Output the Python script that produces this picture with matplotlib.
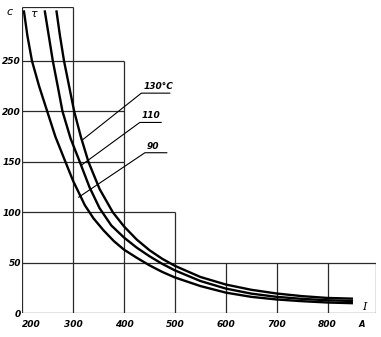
import matplotlib
matplotlib.use('Agg')
import matplotlib.pyplot as plt

# ── Tripping time vs current, three temperatures ─────────────────────────
I_130 = [267, 274, 282, 292, 302, 315, 330, 352, 378, 400, 425, 450, 475, 500,
         550, 600, 650, 700, 750, 800, 850]
t_130 = [300, 275, 250, 225, 200, 175, 150, 123, 100, 86, 73, 62.5, 54, 47,
         36, 28.5, 23.3, 19.6, 17, 15.2, 14.5]

I_110 = [244, 252, 260, 270, 279, 295, 313, 332, 352, 375, 400, 425, 450, 475,
         500, 550, 600, 650, 700, 750, 800, 850]
t_110 = [300, 275, 250, 224, 200, 173, 150, 125, 104, 87, 75, 65, 56.5, 49,
         42.5, 32, 24.5, 19.5, 16.3, 14.3, 12.9, 12.2]

I_90 = [203, 210, 219, 233, 249, 265, 284, 300, 323, 340, 360, 380, 400, 425,
        450, 475, 500, 550, 600, 650, 700, 750, 800, 850]
t_90 = [300, 275, 250, 225, 200, 175, 151, 131, 107, 94, 82, 71.5, 63, 55,
        47.5, 41, 35.5, 27, 20.5, 16.3, 13.7, 12, 10.7, 10]

labels = ['130°C', '110', '90']

# staircase grid: vertical lines and their heights, horizontal lines and their extents
grid_x = [200, 300, 400, 500, 600, 700, 800, 895]
grid_x_top = [303, 303, 250, 100, 50, 50, 50, 50]
grid_y = [0, 50, 100, 150, 200, 250, 303]
grid_y_right = [895, 895, 500, 400, 400, 400, 300]

x_ticks = [200, 300, 400, 500, 600, 700, 800]
y_ticks = [0, 50, 100, 150, 200, 250]

fig = plt.figure(figsize=(3.81, 3.37), dpi=100)
ax = fig.add_axes([0.0585, 0.0703, 0.928, 0.908])
ax.set_xlim(200, 895)
ax.set_ylim(0, 303)
for s in ax.spines.values():
    s.set_visible(False)

gc = '#2a2a2a'
ax.vlines(grid_x, 0, grid_x_top, color=gc, lw=0.9)
ax.hlines(grid_y, 200, grid_y_right, color=gc, lw=0.9)

for xs, ys in [(I_130, t_130), (I_110, t_110), (I_90, t_90)]:
    ax.plot(xs, ys, color='black', lw=1.7, solid_capstyle='butt',
            solid_joinstyle='round', clip_on=False)

# labels with underline and leader to the curve
# (underline start, underline end, underline level, leader end x, leader end y, text x)
lab_pos = [(434, 490, 218, 319, 172, 468),
           (431, 473, 189, 317, 147, 453),
           (441, 484, 159, 311, 115, 457)]
for lab, (x0, x1, yl, xe, ye, xt) in zip(labels, lab_pos):
    ax.plot([x1, x0, xe], [yl, yl, ye], color='black', lw=0.8)
    ax.text(xt, yl + 2, lab, ha='center', va='bottom',
            fontsize=6.5, fontstyle='italic', fontweight='bold')

tf = dict(fontsize=6.5, fontstyle='italic', fontweight='bold')
ax.set_xticks(x_ticks)
ax.set_xticklabels([str(v) for v in x_ticks], **tf)
ax.get_xticklabels()[0].set_horizontalalignment('left')
ax.set_yticks(y_ticks)
ax.set_yticklabels([str(v) for v in y_ticks], **tf)
ax.tick_params(length=0, pad=5)
ax.tick_params(axis='y', pad=1)

ax.text(-0.035, 0.985, 'с', transform=ax.transAxes, ha='center', va='center',
        fontsize=8, fontstyle='italic')
ax.text(222, 296, 'τ', ha='center', va='center', fontsize=8, fontstyle='italic')
ax.text(873, 6, 'I', ha='center', va='center', fontsize=8, fontstyle='italic',
        family='DejaVu Serif')
ax.text(868, -11.5, 'A', ha='center', va='center', fontsize=6, fontstyle='italic',
        fontweight='bold')

fig.savefig('out.png', dpi=100)
